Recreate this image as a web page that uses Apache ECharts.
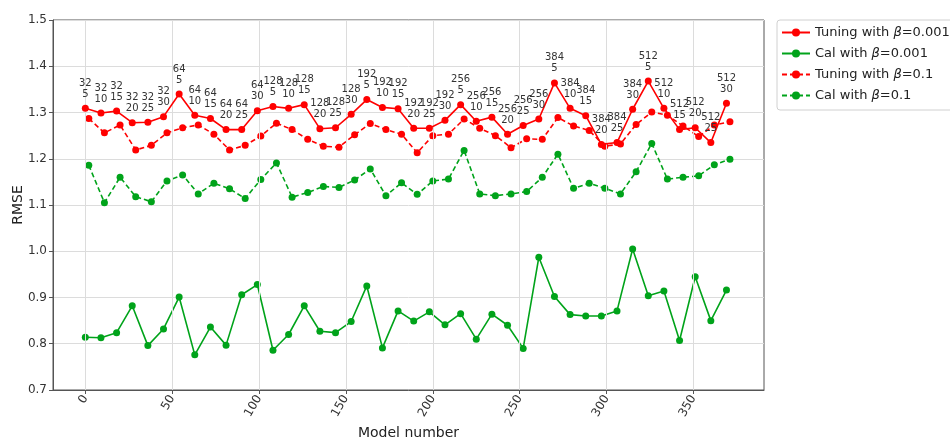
<!DOCTYPE html>
<html>
<head>
<meta charset="utf-8">
<script src="https://cdn.jsdelivr.net/npm/echarts@6/dist/echarts.min.js"></script>
<style>html,body{margin:0;padding:0;background:#fff}#c{width:950px;height:439px}</style>
</head>
<body>
<div id="c"></div>
<script>
// Model numbers (x) for beta=0.001 runs and beta=0.1 runs
const modelsA = [0,9,18,27,36,45,54,63,72,81,90,99,108,117,126,135,144,153,162,171,180,189,198,207,216,225,234,243,252,261,270,279,288,297,306,315,324,333,342,351,360,369];
const modelsB = [2,11,20,29,38,47,56,65,74,83,92,101,110,119,128,137,146,155,164,173,182,191,200,209,218,227,236,245,254,263,272,281,290,299,308,317,326,335,344,353,362,371];
// Annotation parts: batch size and epochs
const batchSizes = [32,32,32,32,32,32,64,64,64,64,64,64,128,128,128,128,128,128,192,192,192,192,192,192,256,256,256,256,256,256,384,384,384,384,384,384,512,512,512,512,512,512];
const epochs = [5,10,15,20,25,30,5,10,15,20,25,30,5,10,15,20,25,30,5,10,15,20,25,30,5,10,15,20,25,30,5,10,15,20,25,30,5,10,15,20,25,30];
// RMSE values
const tuning001 = [1.309,1.299,1.303,1.278,1.279,1.291,1.340,1.294,1.287,1.263,1.263,1.304,1.313,1.309,1.317,1.265,1.267,1.296,1.328,1.311,1.308,1.266,1.266,1.283,1.317,1.281,1.290,1.253,1.272,1.286,1.364,1.309,1.293,1.231,1.235,1.307,1.368,1.309,1.263,1.267,1.235,1.320];
const cal001 = [0.814,0.813,0.824,0.882,0.796,0.832,0.901,0.776,0.836,0.797,0.906,0.928,0.786,0.820,0.882,0.827,0.824,0.848,0.925,0.791,0.871,0.849,0.869,0.841,0.865,0.810,0.864,0.840,0.790,0.987,0.902,0.863,0.860,0.860,0.871,1.005,0.904,0.914,0.807,0.945,0.850,0.916];
const tuning01 = [1.287,1.256,1.273,1.219,1.229,1.256,1.267,1.273,1.253,1.219,1.229,1.249,1.277,1.263,1.242,1.227,1.225,1.252,1.276,1.263,1.253,1.213,1.250,1.253,1.286,1.266,1.250,1.224,1.243,1.242,1.289,1.271,1.261,1.227,1.232,1.274,1.301,1.294,1.271,1.248,1.273,1.280];
const cal01 = [1.186,1.105,1.160,1.118,1.107,1.152,1.165,1.124,1.147,1.135,1.114,1.155,1.191,1.117,1.127,1.140,1.138,1.154,1.178,1.120,1.148,1.123,1.152,1.156,1.218,1.124,1.120,1.124,1.129,1.160,1.210,1.136,1.147,1.136,1.124,1.172,1.233,1.156,1.160,1.163,1.187,1.199];
const yTicks = [0.7,0.8,0.9,1.0,1.1,1.2,1.3,1.4,1.5];
const xTicks = [0,50,100,150,200,250,300,350];

const RED = '#ff0000', GREEN = '#00a31a';
const FONT = 'DejaVu Sans';
// annotations that sit lower (closer to their marker) in the original
const loweredLabels = {33: 8, 34: 9, 40: 8};

const chart = echarts.init(document.getElementById('c'), null, {renderer: 'canvas'});
const mk = (name, xs, ys, color, dashed, labels) => ({
  name, type: 'line',
  data: xs.map((x, i) => (labels && loweredLabels[i])
    ? {value: [x, ys[i]], label: {offset: [0, loweredLabels[i]]}}
    : [x, ys[i]]),
  symbol: 'circle', symbolSize: 7, z: labels ? 5 : 3,
  itemStyle: {color},
  lineStyle: {color, width: 1.6, type: dashed ? [5, 3] : 'solid'},
  label: labels ? {
    show: true, position: 'top', distance: 5,
    formatter: p => batchSizes[p.dataIndex] + '\n' + epochs[p.dataIndex],
    fontFamily: FONT, fontSize: 10, color: '#333', lineHeight: 11
  } : {show: false},
  labelLayout: {hideOverlap: false},
  animation: false
});

const gridSeries = {
  name: '_grid', type: 'line', data: [], silent: true, z: 1,
  markLine: {
    silent: true, symbol: ['none', 'none'], animation: false,
    label: {show: false},
    lineStyle: {color: '#dcdcdc', width: 1, type: 'solid'},
    emphasis: {disabled: true},
    data: xTicks.map(v => ({xAxis: v}))
  }
};

chart.setOption({
  animation: false,
  textStyle: {fontFamily: FONT},
  grid: {left: 53, right: 186, top: 20, bottom: 49, outerBoundsMode: 'none', containLabel: false,
    show: true, borderColor: '#555', borderWidth: 1, backgroundColor: 'transparent'},
  xAxis: {
    type: 'value', min: -18.6, max: 390.6,
    name: 'Model number', nameLocation: 'middle', nameGap: 36, nameMoveOverlap: false,
    nameTextStyle: {fontFamily: FONT, fontSize: 14, color: '#222'},
    axisLine: {show: true, onZero: false, lineStyle: {color: '#555'}},
    axisTick: {show: true, length: 4, lineStyle: {color: '#555'}, customValues: xTicks},
    splitLine: {show: false},
    axisLabel: {
      rotate: 60, fontFamily: FONT, fontSize: 12, color: '#333', margin: 6,
      customValues: xTicks, formatter: v => String(v)
    }
  },
  yAxis: {
    type: 'value', min: yTicks[0], max: yTicks[yTicks.length - 1], interval: 0.1,
    name: 'RMSE', nameLocation: 'middle', nameGap: 28, nameRotate: 90, nameMoveOverlap: false,
    nameTextStyle: {fontFamily: FONT, fontSize: 14, color: '#222'},
    axisLine: {show: true, onZero: false, lineStyle: {color: '#555'}},
    axisTick: {show: true, length: 4, lineStyle: {color: '#555'}},
    splitLine: {show: true, lineStyle: {color: '#dcdcdc', width: 1}},
    axisLabel: {fontFamily: FONT, fontSize: 12, color: '#333', margin: 6, formatter: v => v.toFixed(1)}
  },
  legend: {
    orient: 'vertical', left: 777, top: 20, itemGap: 8, itemWidth: 28, itemHeight: 10,
    padding: [6, 6, 8, 4], borderColor: '#d0d0d0', borderWidth: 1, borderRadius: 3,
    textStyle: {fontFamily: FONT, fontSize: 13, color: '#222',
      rich: {b: {fontFamily: FONT, fontStyle: 'italic', fontSize: 13, color: '#222'}}},
    formatter: n => n.replace('β', '{b|β}'),
    data: ['Tuning with β=0.001', 'Cal with β=0.001', 'Tuning with β=0.1', 'Cal with β=0.1']
  },
  series: [
    gridSeries,
    mk('Tuning with β=0.001', modelsA, tuning001, RED, false, true),
    mk('Cal with β=0.001', modelsA, cal001, GREEN, false, false),
    mk('Tuning with β=0.1', modelsB, tuning01, RED, true, false),
    mk('Cal with β=0.1', modelsB, cal01, GREEN, true, false)
  ]
});
</script>
</body>
</html>
